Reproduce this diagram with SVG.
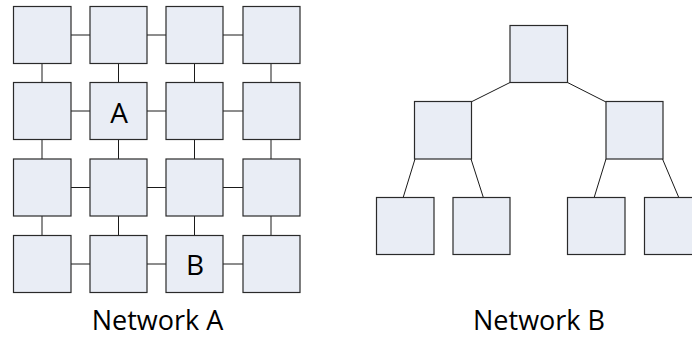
<svg xmlns="http://www.w3.org/2000/svg" width="692" height="337" viewBox="0 0 692 337">
  <style>
    .box { fill: #e9edf5; stroke: #2a2a2a; stroke-width: 1.2; }
    .link { stroke: #1a1a1a; stroke-width: 1; fill: none; }
    .lbl { font-family: "Open Sans", "Noto Sans", sans-serif; fill: #000; text-anchor: middle; }
  </style>
  <rect width="692" height="337" fill="#fff"/>

  <g id="connectors">
    <!-- grid links (Network A) -->
    <g id="grid-links">
      <!-- horizontal -->
      <path class="link" d="M71 35H90M147 35H166M223 35H243"/>
      <path class="link" d="M71 111H90M147 111H166M223 111H243"/>
      <path class="link" d="M71 187.5H90M147 187.5H166M223 187.5H243"/>
      <path class="link" d="M71 264H90M147 264H166M223 264H243"/>
      <!-- vertical -->
      <path class="link" d="M42 63.5V82.5M118.5 63.5V82.5M194.5 63.5V82.5M271 63.5V82.5"/>
      <path class="link" d="M42 139.5V159M118.5 139.5V159M194.5 139.5V159M271 139.5V159"/>
      <path class="link" d="M42 216V235.5M118.5 216V235.5M194.5 216V235.5M271 216V235.5"/>
    </g>
    <!-- tree links (Network B) -->
    <g id="tree-links">
      <path class="link" d="M510 82.5L471 102"/>
      <path class="link" d="M567.5 82.5L606 102"/>
      <path class="link" d="M415 159L403 198"/>
      <path class="link" d="M471 159L483.5 198"/>
      <path class="link" d="M606 159L594 198"/>
      <path class="link" d="M662.5 159L679 198"/>
    </g>
  </g>

  <!-- Network A: 4x4 grid -->
  <g id="grid">
    <g id="a11"><rect class="box" x="13.5" y="6.5" width="57.5" height="57"/></g>
    <g id="a12"><rect class="box" x="90" y="6.5" width="57" height="57"/></g>
    <g id="a13"><rect class="box" x="166" y="6.5" width="57" height="57"/></g>
    <g id="a14"><rect class="box" x="243" y="6.5" width="57" height="57"/></g>

    <g id="a21"><rect class="box" x="13.5" y="82.5" width="57.5" height="57"/></g>
    <g id="nodeA"><rect class="box" x="90" y="82.5" width="57" height="57"/>
      <text class="lbl" x="119" y="122.5" font-size="28">A</text></g>
    <g id="a23"><rect class="box" x="166" y="82.5" width="57" height="57"/></g>
    <g id="a24"><rect class="box" x="243" y="82.5" width="57" height="57"/></g>

    <g id="a31"><rect class="box" x="13.5" y="159" width="57.5" height="57"/></g>
    <g id="a32"><rect class="box" x="90" y="159" width="57" height="57"/></g>
    <g id="a33"><rect class="box" x="166" y="159" width="57" height="57"/></g>
    <g id="a34"><rect class="box" x="243" y="159" width="57" height="57"/></g>

    <g id="a41"><rect class="box" x="13.5" y="235.5" width="57.5" height="57"/></g>
    <g id="a42"><rect class="box" x="90" y="235.5" width="57" height="57"/></g>
    <g id="nodeB"><rect class="box" x="166" y="235.5" width="57" height="57"/>
      <text class="lbl" x="195" y="274.5" font-size="28">B</text></g>
    <g id="a44"><rect class="box" x="243" y="235.5" width="57" height="57"/></g>
  </g>

  <!-- Network B: binary tree -->
  <g id="tree">
    <g id="root"><rect class="box" x="510" y="25.5" width="57.5" height="57"/></g>
    <g id="left"><rect class="box" x="414.5" y="101.5" width="57" height="57.5"/></g>
    <g id="right"><rect class="box" x="606" y="101.5" width="57" height="57.5"/></g>
    <g id="leaf1"><rect class="box" x="376.5" y="197.5" width="57.5" height="57"/></g>
    <g id="leaf2"><rect class="box" x="453" y="197.5" width="57" height="57"/></g>
    <g id="leaf3"><rect class="box" x="567.5" y="197.5" width="57.5" height="57"/></g>
    <g id="leaf4"><rect class="box" x="644.5" y="197.5" width="57" height="57"/></g>
  </g>

  <!-- captions -->
  <g id="captions">
    <text class="lbl" x="157.5" y="330" font-size="27">Network A</text>
    <text class="lbl" x="539" y="330" font-size="27">Network B</text>
  </g>
</svg>
